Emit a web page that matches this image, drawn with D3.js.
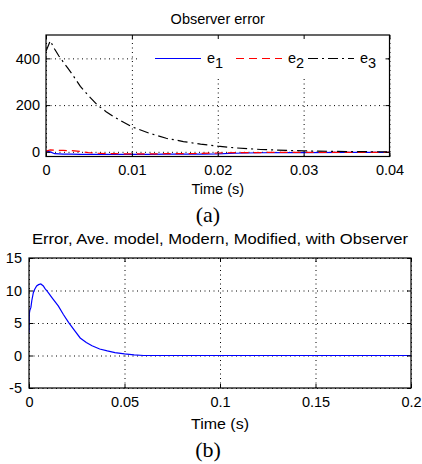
<!doctype html>
<html lang="en">
<head>
  <meta charset="utf-8">
  <title>Observer error</title>
  <script src="https://d3js.org/d3.v7.min.js"></script>
  <style>
    body { margin: 0; background: #fff; }
    svg text { font-family: "Liberation Sans", Arial, sans-serif; fill: #000; }
    .cap { font-family: "Liberation Serif", "Times New Roman", serif !important; }
  </style>
</head>
<body>
<svg id="fig" width="422" height="464"></svg>
<script>
  // --- data ---
  // (a) observer error
  var tA = [0, 0.0005, 0.001, 0.0015, 0.002, 0.0025, 0.003, 0.004, 0.005, 0.006, 0.007, 0.008, 0.01, 0.012, 0.014, 0.016, 0.018, 0.02, 0.022, 0.025, 0.028, 0.03, 0.035, 0.04];
  var e1 = [2, 0, -8, -9, -10, -10, -10, -11, -11, -11, -11, -11, -11, -11, -10, -10, -10, -9, -6, -4, -3, -3, -2, -2];
  var e2 = [3, 8, 7, 6, 6, 5, 5, 2, -4, -6, -8, -8, -9, -9, -8, -8, -7, -5, -3, -3, -2, -2, -2, -2];
  var e3 = [430, 475, 440, 410, 385, 360, 335, 280, 238, 200, 172, 148, 107, 80, 58, 44, 33, 24, 17, 10, 6, 4, 1, 0];
  var seriesNames = ["e1", "e2", "e3"];
  var ticksAx = [0, 0.01, 0.02, 0.03, 0.04];
  var ticksAy = [0, 200, 400];

  // (b) error, average model
  var tB = [0, 0.0002, 0.0005, 0.001, 0.0015, 0.0023, 0.003, 0.004, 0.005, 0.0062, 0.0075, 0.0084, 0.01, 0.012, 0.0154, 0.018, 0.0207, 0.024, 0.0268, 0.03, 0.033, 0.037, 0.041, 0.045, 0.05, 0.055, 0.06, 0.1, 0.15, 0.2];
  var errB = [3.5, 6.5, 7, 7.4, 8.5, 9.7, 10.2, 10.7, 10.9, 11, 10.7, 10.3, 9.7, 8.9, 7.6, 6.3, 5.1, 3.8, 2.7, 2.0, 1.5, 1.0, 0.7, 0.45, 0.25, 0.1, 0, 0, 0, 0];
  var ticksBx = [0, 0.05, 0.1, 0.15, 0.2];
  var ticksBy = [-5, 0, 5, 10, 15];

  var svg = d3.select("#fig");
  var fs = 14.5;

  function panel(o) {
    var x = d3.scaleLinear().domain(o.xd).range([o.left, o.right]);
    var y = d3.scaleLinear().domain(o.yd).range([o.bottom, o.top]);
    var g = svg.append("g");
    var w = o.right - o.left, h = o.bottom - o.top;

    // dotted grid
    g.append("g").attr("transform", "translate(0," + o.bottom + ")")
      .call(d3.axisBottom(x).tickValues(o.xt).tickSize(-h).tickFormat(""))
      .call(function(s) { s.select(".domain").remove(); })
      .selectAll("line").attr("stroke", "#000").attr("stroke-dasharray", "1,3.5");
    g.append("g").attr("transform", "translate(" + o.left + ",0)")
      .call(d3.axisLeft(y).tickValues(o.yt).tickSize(-w).tickFormat(""))
      .call(function(s) { s.select(".domain").remove(); })
      .selectAll("line").attr("stroke", "#000").attr("stroke-dasharray", "1,3.5");

    // legend background covers grid
    if (o.legend) o.legend(g, x, y);

    // curves
    var clipId = "clip" + o.id;
    svg.append("clipPath").attr("id", clipId).append("rect")
      .attr("x", o.left).attr("y", o.top).attr("width", w).attr("height", h);
    o.series.forEach(function(s) {
      g.append("path")
        .datum(s.t.map(function(t, i) { return [t, s.v[i]]; }))
        .attr("clip-path", "url(#" + clipId + ")")
        .attr("fill", "none").attr("stroke", s.color).attr("stroke-width", 1.2)
        .attr("stroke-dasharray", s.dash || null)
        .attr("d", d3.line().x(function(d) { return x(d[0]); }).y(function(d) { return y(d[1]); }));
    });

    // axes with inward ticks on all four sides
    var fmt = function(d) { return String(d); };
    var ax = g.append("g").attr("transform", "translate(0," + o.bottom + ")")
      .call(d3.axisBottom(x).tickValues(o.xt).tickSize(-4).tickPadding(o.xpad).tickFormat(fmt));
    var ay = g.append("g").attr("transform", "translate(" + o.left + ",0)")
      .call(d3.axisLeft(y).tickValues(o.yt).tickSize(-4).tickPadding(o.ypad).tickFormat(fmt));
    var at = g.append("g").attr("transform", "translate(0," + o.top + ")")
      .call(d3.axisTop(x).tickValues(o.xt).tickSize(-4).tickFormat(""));
    var ar = g.append("g").attr("transform", "translate(" + o.right + ",0)")
      .call(d3.axisRight(y).tickValues(o.yt).tickSize(-4).tickFormat(""));
    [ax, ay, at, ar].forEach(function(a) {
      a.selectAll("text").attr("font-size", fs);
      a.select(".domain").remove();
      a.selectAll("line").attr("stroke", "#000");
    });
    g.append("rect").attr("x", o.left).attr("y", o.top).attr("width", w).attr("height", h)
      .attr("fill", "none").attr("stroke", "#000").attr("stroke-width", 1.2);

    // texts
    var cx = (o.left + o.right) / 2;
    var tt = g.append("text").attr("x", cx).attr("y", o.titleY).attr("text-anchor", "middle")
      .attr("font-size", fs).text(o.title);
    if (o.titleW) tt.attr("textLength", o.titleW).attr("lengthAdjust", "spacingAndGlyphs");
    var xl = g.append("text").attr("x", cx).attr("y", o.xlabY).attr("text-anchor", "middle")
      .attr("font-size", fs).text("Time (s)");
    if (o.xlabW) xl.attr("textLength", o.xlabW).attr("lengthAdjust", "spacingAndGlyphs");
    g.append("text").attr("class", "cap").attr("x", o.capX).attr("y", o.capY).attr("text-anchor", "middle")
      .attr("font-size", 22).text(o.cap);
  }

  var colors = ["#0000ff", "#ff0000", "#000000"];
  var dashes = [null, "8,5", "10,4,2,4"];

  panel({
    id: "a", xd: [0, 0.04], yd: [-20, 500], left: 46, right: 389.5, top: 35, bottom: 156.5,
    xt: ticksAx, yt: ticksAy, xpad: 8, ypad: 6,
    title: "Observer error", titleY: 24, xlabY: 194, cap: "(a)", capX: 208, capY: 222,
    series: [
      { t: tA, v: e1, color: colors[0] },
      { t: tA, v: e2, color: colors[1], dash: dashes[1] },
      { t: tA, v: e3, color: colors[2], dash: dashes[2] }
    ],
    legend: function(g, x, y) {
      g.append("rect").attr("x", 138).attr("y", 36.5).attr("width", 247).attr("height", 42).attr("fill", "#fff");
      var lx = [155, 236, 308];
      seriesNames.forEach(function(n, i) {
        g.append("line").attr("x1", lx[i]).attr("x2", lx[i] + 46).attr("y1", 58.5).attr("y2", 58.5)
          .attr("stroke", colors[i]).attr("stroke-width", 1.2).attr("stroke-dasharray", dashes[i]);
        var t = g.append("text").attr("x", lx[i] + 52).attr("y", 63).attr("font-size", fs);
        t.append("tspan").text(n.charAt(0));
        t.append("tspan").attr("dy", 5).attr("font-size", fs).text(n.slice(1));
      });
    }
  });

  panel({
    id: "b", xd: [0, 0.2], yd: [-5, 15], left: 29, right: 411, top: 258, bottom: 388,
    xt: ticksBx, yt: ticksBy, xpad: 9, ypad: 7,
    title: "Error, Ave. model, Modern, Modified, with Observer", titleY: 244, titleW: 376,
    xlabY: 429, xlabW: 58,
    cap: "(b)", capX: 208, capY: 457,
    series: [{ t: tB, v: errB, color: colors[0] }]
  });
</script>
</body>
</html>
